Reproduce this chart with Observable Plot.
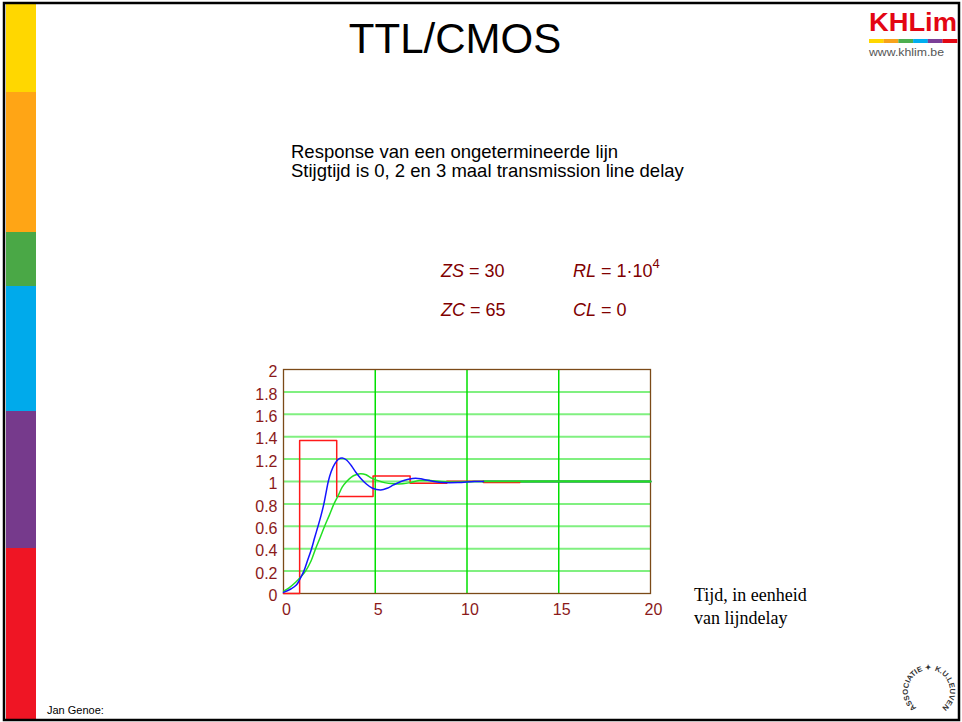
<!DOCTYPE html>
<html>
<head>
<meta charset="utf-8">
<script src="https://cdn.jsdelivr.net/npm/d3@7"></script>
<script src="https://cdn.jsdelivr.net/npm/@observablehq/plot@0.6"></script>
<style>
  body { margin: 0; background: #fff; }
  #page { position: relative; width: 962px; height: 722px; overflow: hidden; background: #fff; }
  #deco { position: absolute; left: 0; top: 0; }
  #chart { position: absolute; left: 230px; top: 355px; }
</style>
</head>
<body>
<div id="page">
  <svg id="deco" width="962" height="722" xmlns="http://www.w3.org/2000/svg"></svg>
  <div id="chart"></div>
</div>
<script>
// ---------- data ----------
const xTicks = [0, 5, 10, 15, 20];
const yTicks = [0, 0.2, 0.4, 0.6, 0.8, 1, 1.2, 1.4, 1.6, 1.8, 2];
const hGrid = [0.2, 0.4, 0.6, 0.8, 1, 1.2, 1.4, 1.6, 1.8];
const vGrid = [5, 10, 15];

// rise time 0 (red): step response of the unterminated line
const redT = [0, 0.88, 2.9, 4.88, 6.9, 8.9, 10.9, 12.88];
const redV = [0, 1.365, 0.865, 1.05, 0.985, 1.003, 0.99, 0.99];

// rise time 2 (blue)
const blueT = [0, 0.4, 0.7, 0.9, 1.11, 1.3, 1.53, 1.7, 1.88, 2.05, 2.2, 2.32, 2.44, 2.6, 2.8, 3.0, 3.2, 3.45, 3.7, 3.95, 4.2, 4.5, 4.85, 5.3, 5.65, 6.0, 6.4, 6.8, 7.2, 7.6, 8.2, 8.7, 9.5, 10.4, 10.9];
const blueV = [0.01, 0.04, 0.075, 0.13, 0.2, 0.29, 0.4, 0.5, 0.6, 0.7, 0.8, 0.9, 1.0, 1.09, 1.16, 1.2, 1.21, 1.19, 1.14, 1.08, 1.03, 0.98, 0.94, 0.925, 0.94, 0.97, 1.0, 1.02, 1.03, 1.02, 1.0, 0.99, 0.99, 1.0, 1.0];

// rise time 3 (green)
const greenT = [0, 0.3, 0.66, 0.95, 1.2, 1.5, 1.75, 2.0, 2.24, 2.5, 2.75, 3.0, 3.2, 3.44, 3.7, 3.95, 4.2, 4.5, 4.8, 5.1, 5.5, 6.0, 6.5, 6.9, 7.4, 8.0, 8.6, 9.5, 10.4, 20];
const greenV = [0.02, 0.05, 0.1, 0.15, 0.2, 0.29, 0.4, 0.5, 0.6, 0.7, 0.8, 0.88, 0.95, 1.0, 1.04, 1.06, 1.07, 1.06, 1.03, 1.01, 0.99, 0.98, 0.98, 0.99, 1.01, 1.01, 1.0, 0.995, 1.0, 1.0];

// settled tail where the curves coincide
const tailT = [10.9, 20];
const tailV = [1, 1];

const barColors = ["#ffd700", "#ffa515", "#4aa846", "#00aaeb", "#763a8c", "#ef1524"];
const barStops = [4, 92, 232, 286, 411, 548, 719];
const logoColors = ["#ffd700", "#f7a21b", "#4caf50", "#00aeef", "#7b3f98", "#e30613"];

// ---------- decorations & texts ----------
const NS = "http://www.w3.org/2000/svg";
const deco = document.getElementById("deco");
function el(tag, attrs, parent = deco, text) {
  const e = document.createElementNS(NS, tag);
  for (const k in attrs) e.setAttribute(k, attrs[k]);
  if (text != null) e.textContent = text;
  parent.appendChild(e);
  return e;
}
const sans = "Arial, 'Liberation Sans', sans-serif";
const serif = "'Times New Roman', 'Liberation Serif', serif";

// left colour bar
barColors.forEach((c, i) => {
  el("rect", { x: 6, y: barStops[i], width: 30, height: barStops[i + 1] - barStops[i], fill: c });
});
// slide border
el("rect", { x: 4, y: 3, width: 955, height: 717, fill: "none", stroke: "#000", "stroke-width": 2.5 });

// title
el("text", { x: 455, y: 53, "text-anchor": "middle", "font-family": sans, "font-size": 42, fill: "#000" }, deco, "TTL/CMOS");

// KHLim logo
el("text", { x: 869, y: 31, "font-family": sans, "font-weight": "bold", "font-size": 25, fill: "#e30613", textLength: 88, lengthAdjust: "spacingAndGlyphs" }, deco, "KHLim");
logoColors.forEach((c, i) => {
  el("rect", { x: 869 + i * 14.7, y: 39, width: 14.8, height: 4, fill: c });
});
el("text", { x: 869, y: 56, "font-family": sans, "font-size": 11, fill: "#555", textLength: 75, lengthAdjust: "spacingAndGlyphs" }, deco, "www.khlim.be");

// description
el("text", { x: 291, y: 158, "font-family": sans, "font-size": 18.5, fill: "#000" }, deco, "Response van een ongetermineerde lijn");
el("text", { x: 291, y: 177, "font-family": sans, "font-size": 18.5, fill: "#000" }, deco, "Stijgtijd is 0, 2 en 3 maal transmission line delay");

// parameters
function param(x, y, name, rest, sup) {
  const t = el("text", { x, y, "font-family": sans, "font-size": 18, fill: "#800000" });
  el("tspan", { "font-style": "italic" }, t, name);
  el("tspan", {}, t, rest);
  if (sup) el("tspan", { dy: -9, "font-size": 13 }, t, sup);
}
param(441, 277, "ZS", " = 30");
param(573, 277, "RL", " = 1\u00B710", "4");
param(441, 316, "ZC", " = 65");
param(573, 316, "CL", " = 0");

// axis caption
el("text", { x: 694, y: 601, "font-family": serif, "font-size": 18, fill: "#000" }, deco, "Tijd, in eenheid");
el("text", { x: 694, y: 624, "font-family": serif, "font-size": 18, fill: "#000" }, deco, "van lijndelay");

// footer
el("text", { x: 47, y: 714, "font-family": sans, "font-size": 11, fill: "#000" }, deco, "Jan Genoe:");

// K.U.Leuven association seal
const defs = el("defs", {});
el("path", { id: "sealArc", d: "M916.6,707.9 A21,21 0 1 1 941.4,707.9" }, defs);
const st = el("text", { "font-family": sans, "font-weight": "bold", "font-size": 7.5, fill: "#333" });
el("textPath", { href: "#sealArc", textLength: 104, lengthAdjust: "spacingAndGlyphs" }, st, "ASSOCIATIE \u2726 K.U.LEUVEN");

// ---------- the chart ----------
const red = redT.map((t, i) => ({ t, v: redV[i] }));
const blue = blueT.map((t, i) => ({ t, v: blueV[i] }));
const green = greenT.map((t, i) => ({ t, v: greenV[i] }));
const tail = tailT.map((t, i) => ({ t, v: tailV[i] }));

const chart = Plot.plot({
  width: 440,
  height: 270,
  marginLeft: 53,
  marginRight: 20,
  marginTop: 14,
  marginBottom: 32,
  x: { domain: [0, 20] },
  y: { domain: [0, 2] },
  style: { fontFamily: sans, fontSize: "16px", color: "#8b1a1a", background: "transparent", overflow: "visible" },
  marks: [
    Plot.ruleY(hGrid, { stroke: "#80f080", strokeWidth: 2 }),
    Plot.ruleX(vGrid, { stroke: "#00e000", strokeWidth: 1.5 }),
    Plot.frame({ stroke: "#7b4a18", strokeWidth: 1.3 }),
    Plot.line(tail, { x: "t", y: "v", stroke: "#2a9d50", strokeWidth: 2.5 }),
    Plot.line(red, { x: "t", y: "v", curve: "step-after", stroke: "#ff1a1a", strokeWidth: 1.5 }),
    Plot.line(green, { x: "t", y: "v", curve: "catmull-rom", stroke: "#22e022", strokeWidth: 1.5 }),
    Plot.line(blue, { x: "t", y: "v", curve: "catmull-rom", stroke: "#1414ff", strokeWidth: 1.5 }),
    Plot.axisX(xTicks, { tickSize: 0, tickPadding: 10, dx: 3, label: null, fill: "#8b1a1a" }),
    Plot.axisY(yTicks, { tickSize: 0, tickPadding: 6, dy: 2.5, label: null, fill: "#8b1a1a",
      tickFormat: d => String(Math.round(d * 10) / 10) })
  ]
});
document.getElementById("chart").appendChild(chart);
</script>
</body>
</html>
